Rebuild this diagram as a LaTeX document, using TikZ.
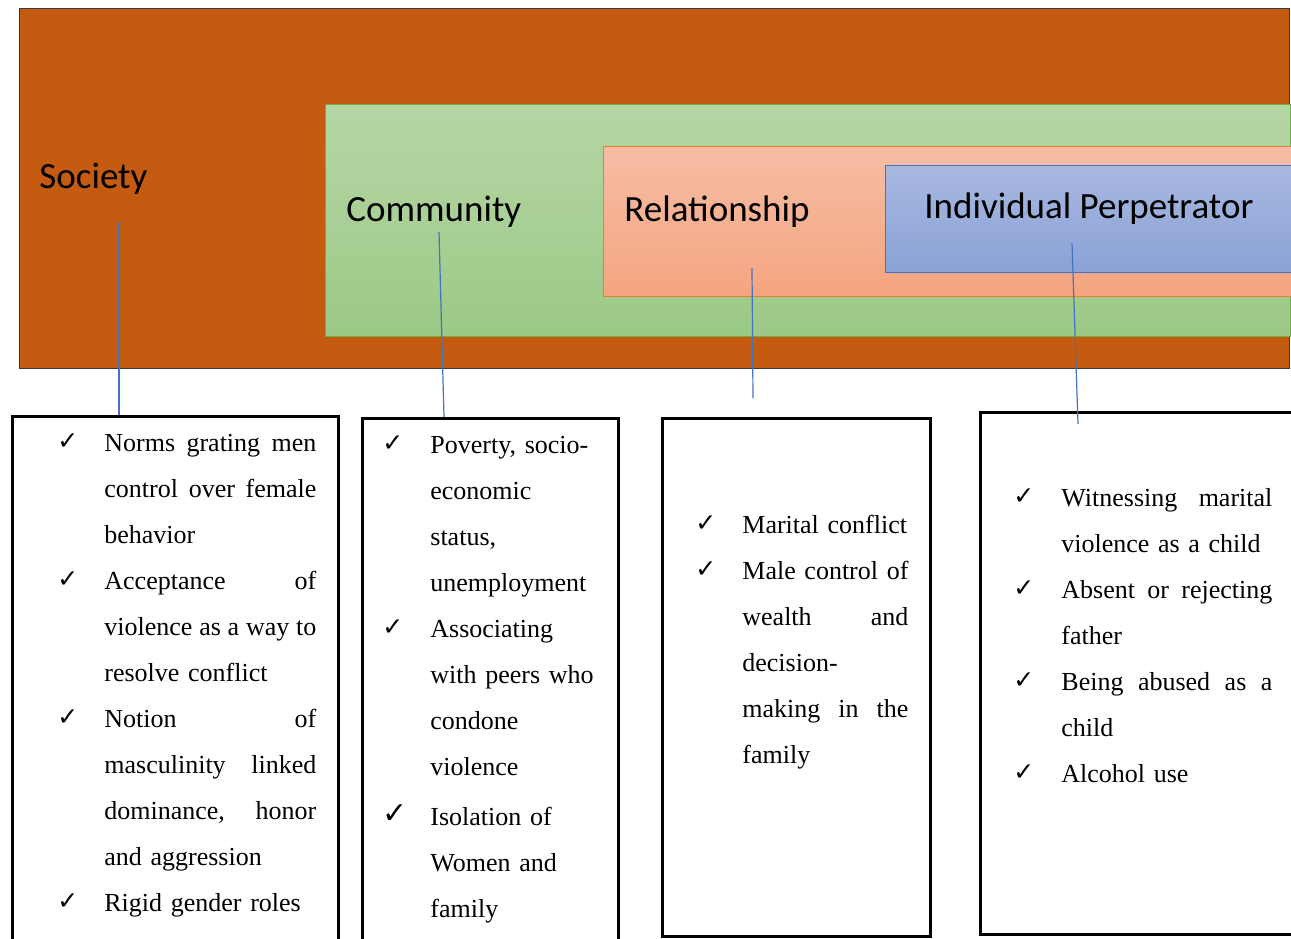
\documentclass[tikz,border=0pt]{standalone}
\usepackage{fontspec}
\setmainfont{Liberation Serif}
\newfontfamily\tierfont{Carlito}
\newfontfamily\tickfont{DejaVu Sans}
\usetikzlibrary{positioning}

\definecolor{societyfill}{HTML}{C55A11}
\definecolor{societyline}{HTML}{3A3A3A}
\definecolor{commtop}{HTML}{B5D6A5}
\definecolor{commbot}{HTML}{9CC986}
\definecolor{commline}{HTML}{70AD47}
\definecolor{reltop}{HTML}{F6BDA4}
\definecolor{relbot}{HTML}{F4A57F}
\definecolor{relline}{HTML}{ED7D31}
\definecolor{indtop}{HTML}{A8B8E0}
\definecolor{indbot}{HTML}{8AA2D6}
\definecolor{indline}{HTML}{4472C4}
\definecolor{linkblue}{HTML}{4472C4}

% one full justified line of a list item
\newcommand{\fillline}[2]{\leavevmode\hbox to #1{\spaceskip=.25em plus 1fil minus .1em
  \xspaceskip=\spaceskip #2}}

\tikzset{
  tier/.style={draw, line width=0.6pt, anchor=north west, inner sep=0pt},
  tierlabel/.style={anchor=base west, inner sep=0pt,
    font=\tierfont\fontsize{18.5}{22}\selectfont},
  listbox/.style={draw=black, line width=1.3pt, anchor=north west, inner sep=0pt},
  item/.style={anchor=base west, inner sep=0pt, align=left, text width=125pt,
    font=\fontsize{13}{23}\selectfont},
  tick/.style={anchor=base west, inner sep=0pt,
    font=\tickfont\fontsize{12.5}{14}\selectfont},
  link/.style={draw=linkblue, line width=0.6pt},
}

\begin{document}
\begin{tikzpicture}[x=0.5pt, y=-0.5pt]
  \clip (0,0) rectangle (1291,938);

  % levels
  \node[tier, draw=societyline, fill=societyfill,
    minimum width=635pt, minimum height=180pt] at (19,8) (society) {};
  \node[tier, draw=commline, top color=commtop, bottom color=commbot,
    minimum width=482.5pt, minimum height=116pt] at (325,104) (community) {};
  \node[tier, draw=relline, top color=reltop, bottom color=relbot,
    minimum width=346pt, minimum height=75pt] at (603,146) (relationship) {};
  \node[tier, draw=indline, top color=indtop, bottom color=indbot,
    minimum width=205pt, minimum height=53.5pt] at (885,165) (individual) {};

  \node[tierlabel] at (39,188) (societyLabel) {Society};
  \node[tierlabel] at (346,221) (communityLabel) {Community};
  \node[tierlabel] at (624,221) (relationshipLabel) {Relationship};
  \node[tierlabel] at (924,218) (individualLabel) {Individual Perpetrator};

  % lists
  \node[listbox, minimum width=163pt, minimum height=272.5pt] at (11,415) (societyList) {};
  \node[listbox, minimum width=128pt, minimum height=271.5pt] at (361,417) (communityList) {};
  \node[listbox, minimum width=134pt, minimum height=259pt] at (661,417) (relationshipList) {};
  \node[listbox, minimum width=160.5pt, minimum height=261pt] at (979,411) (individualList) {};

  \node[tick] at (57,449) (s1tick) {✓};
  \node[item] at (104,451) (s1) {\fillline{106pt}{Norms grating men}\\
    \fillline{106pt}{control over female}\\ behavior};
  \node[tick] at (57,587) (s2tick) {✓};
  \node[item] at (104,589) (s2) {\fillline{106pt}{Acceptance of}\\
    \fillline{106pt}{violence as a way to}\\ resolve conflict};
  \node[tick] at (57,725) (s3tick) {✓};
  \node[item] at (104,727) (s3) {\fillline{106pt}{Notion of}\\
    \fillline{106pt}{masculinity linked}\\ \fillline{106pt}{dominance, honor}\\
    and aggression};
  \node[tick] at (57,909) (s4tick) {✓};
  \node[item] at (104,911) (s4) {Rigid gender roles};

  \node[tick] at (382,451) (c1tick) {✓};
  \node[item] at (430,453) (c1) {Poverty, socio-\\ economic\\ status,\\ unemployment};
  \node[tick] at (382,635) (c2tick) {✓};
  \node[item] at (430,637) (c2) {Associating\\ with peers who\\ condone\\ violence};
  \node[tick, font=\tickfont\fontsize{15}{17}\selectfont] at (382,823) (c3tick) {✓};
  \node[item] at (430,825) (c3) {Isolation of\\ Women and\\ family};

  \node[tick] at (695,531) (r1tick) {✓};
  \node[item] at (742,533) (r1) {Marital conflict};
  \node[tick] at (695,577) (r2tick) {✓};
  \node[item] at (742,579) (r2) {\fillline{83pt}{Male control of}\\
    \fillline{83pt}{wealth and}\\ decision-\\ \fillline{83pt}{making in the}\\ family};

  \node[tick] at (1013,504) (i1tick) {✓};
  \node[item] at (1061,506) (i1) {\fillline{105.5pt}{Witnessing marital}\\ violence as a child};
  \node[tick] at (1013,596) (i2tick) {✓};
  \node[item] at (1061,598) (i2) {\fillline{105.5pt}{Absent or rejecting}\\ father};
  \node[tick] at (1013,688) (i3tick) {✓};
  \node[item] at (1061,690) (i3) {\fillline{105.5pt}{Being abused as a}\\ child};
  \node[tick] at (1013,780) (i4tick) {✓};
  \node[item] at (1061,782) (i4) {Alcohol use};

  % connectors
  \coordinate (societyStem) at (119,222);
  \coordinate (societyFoot) at (119,415);
  \coordinate (communityStem) at (439,232);
  \coordinate (communityFoot) at (444,417);
  \coordinate (relationshipStem) at (752,268);
  \coordinate (relationshipFoot) at (753,398);
  \coordinate (individualStem) at (1072,243);
  \coordinate (individualFoot) at (1078,424);

  \draw[link] (societyStem) -- (societyFoot);
  \draw[link] (communityStem) -- (communityFoot);
  \draw[link] (relationshipStem) -- (relationshipFoot);
  \draw[link] (individualStem) -- (individualFoot);
\end{tikzpicture}
\end{document}
